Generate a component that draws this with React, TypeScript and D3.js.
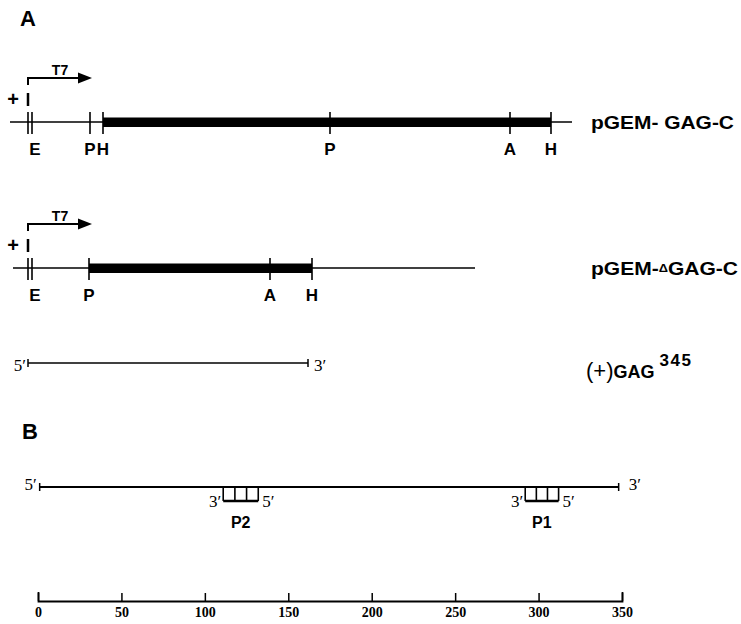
import React, { useEffect, useRef } from "react";
import * as d3 from "d3";

// plasmid maps (arbitrary map units, 0 = left end of pGEM-GAG-C drawing)
const gagLine = [0, 562];
const gagInsert = [93, 541];
const gagSites = [
  { label: "E", pos: 20 },
  { label: "P", pos: 80 },
  { label: "H", pos: 93 },
  { label: "P", pos: 320 },
  { label: "A", pos: 500 },
  { label: "H", pos: 541 },
];

const dgagLine = [3, 465];
const dgagInsert = [79, 302];
const dgagSites = [
  { label: "E", pos: 20 },
  { label: "P", pos: 79 },
  { label: "A", pos: 260 },
  { label: "H", pos: 302 },
];

const promoterStart = 18;
const promoterEnd = 82;
const transcript345 = [18, 298];

// part B, nucleotide coordinates
const rnaSpan = [1, 348];
const probes = [
  { name: "P2", from: 111, to: 132 },
  { name: "P1", from: 292, to: 312 },
];
const scaleTicks = [0, 50, 100, 150, 200, 250, 300, 350];

const SANS = "'Liberation Sans', Arial, sans-serif";
const SERIF = "'Liberation Serif', 'Times New Roman', serif";

const App = () => {
  const ref = useRef<SVGSVGElement>(null);

  useEffect(() => {
    const svg = d3.select(ref.current);
    svg.selectAll("*").remove();

    const mapX = d3.scaleLinear().domain([0, 565]).range([10, 575]);
    const ntX = d3.scaleLinear().domain([0, 350]).range([38, 622]);

    const rowY = { gag: 122, dgag: 268, t345: 363, rna: 487, axis: 601 };

    svg
      .append("text")
      .attr("x", 20)
      .attr("y", 26)
      .attr("font-family", SANS)
      .attr("font-weight", "bold")
      .attr("font-size", 22)
      .text("A");

    // one plasmid map
    const drawMap = (y, line, insert, sites, label) => {
      const g = svg.append("g");
      g.append("line")
        .attr("x1", mapX(line[0]))
        .attr("x2", mapX(line[1]))
        .attr("y1", y)
        .attr("y2", y)
        .attr("stroke", "#000")
        .attr("stroke-width", 1.5);
      g.append("rect")
        .attr("x", mapX(insert[0]))
        .attr("width", mapX(insert[1]) - mapX(insert[0]))
        .attr("y", y - 4.5)
        .attr("height", 9.5)
        .attr("fill", "#000");

      sites.forEach((s) => {
        const offs = s.label === "E" ? [-2, 2] : [0];
        offs.forEach((o) => {
          g.append("line")
            .attr("x1", mapX(s.pos) + o)
            .attr("x2", mapX(s.pos) + o)
            .attr("y1", y - 10)
            .attr("y2", y + 12)
            .attr("stroke", "#000")
            .attr("stroke-width", 1.6);
        });
        g.append("text")
          .attr("x", mapX(s.pos) + (s.label === "E" ? 5 : 0))
          .attr("y", y + 33)
          .attr("text-anchor", "middle")
          .attr("font-family", SANS)
          .attr("font-weight", "bold")
          .attr("font-size", 17)
          .text(s.label);
      });

      // T7 promoter arrow
      const px = mapX(promoterStart);
      const tip = mapX(promoterEnd);
      g.append("line")
        .attr("x1", px)
        .attr("x2", px)
        .attr("y1", y - 29)
        .attr("y2", y - 16)
        .attr("stroke", "#000")
        .attr("stroke-width", 2.5);
      g.append("path")
        .attr("d", `M${px},${y - 37}V${y - 44}H${tip - 13}`)
        .attr("fill", "none")
        .attr("stroke", "#000")
        .attr("stroke-width", 2);
      g.append("path")
        .attr("d", `M${tip - 14},${y - 49.5}L${tip},${y - 44}L${tip - 14},${y - 38.5}Z`)
        .attr("fill", "#000");
      g.append("text")
        .attr("x", px + 32)
        .attr("y", y - 47)
        .attr("text-anchor", "middle")
        .attr("font-family", SANS)
        .attr("font-weight", "bold")
        .attr("font-size", 14)
        .text("T7");
      g.append("text")
        .attr("x", 13)
        .attr("y", y - 16)
        .attr("text-anchor", "middle")
        .attr("font-family", SANS)
        .attr("font-weight", "bold")
        .attr("font-size", 20)
        .text("+");

      const t = g
        .append("text")
        .attr("x", 591)
        .attr("y", y + 7)
        .attr("font-family", SANS)
        .attr("font-weight", "bold")
        .attr("font-size", 18);
      label(t);
    };

    drawMap(rowY.gag, gagLine, gagInsert, gagSites, (t) =>
      t.attr("textLength", 143).attr("lengthAdjust", "spacingAndGlyphs").text("pGEM- GAG-C")
    );
    drawMap(rowY.dgag, dgagLine, dgagInsert, dgagSites, (t) => {
      t.attr("textLength", 147).attr("lengthAdjust", "spacingAndGlyphs");
      t.append("tspan").text("pGEM-");
      t.append("tspan").attr("font-size", 11).attr("dy", -3).text("\u0394");
      t.append("tspan").attr("dy", 3).text("GAG-C");
    });

    // (+)GAG345 transcript
    const endBar = (g, x, y) =>
      g
        .append("line")
        .attr("x1", x)
        .attr("x2", x)
        .attr("y1", y - 4)
        .attr("y2", y + 4)
        .attr("stroke", "#000")
        .attr("stroke-width", 1.5);
    const prime = (x, y, txt, anchor) =>
      svg
        .append("text")
        .attr("x", x)
        .attr("y", y)
        .attr("text-anchor", anchor)
        .attr("font-family", SERIF)
        .attr("font-size", 17)
        .text(txt);

    const tg = svg.append("g");
    tg.append("line")
      .attr("x1", mapX(transcript345[0]))
      .attr("x2", mapX(transcript345[1]))
      .attr("y1", rowY.t345)
      .attr("y2", rowY.t345)
      .attr("stroke", "#000")
      .attr("stroke-width", 1.6);
    endBar(tg, mapX(transcript345[0]), rowY.t345);
    endBar(tg, mapX(transcript345[1]), rowY.t345);
    prime(mapX(transcript345[0]) - 2, rowY.t345 + 8, "5\u2032", "end");
    prime(mapX(transcript345[1]) + 6, rowY.t345 + 8, "3\u2032", "start");

    const gt = svg
      .append("text")
      .attr("x", 586)
      .attr("y", rowY.t345 + 15)
      .attr("font-family", SANS)
      .attr("font-weight", "bold")
      .attr("font-size", 18);
    gt.append("tspan").attr("font-size", 22).attr("font-weight", "normal").text("(+)");
    gt.append("tspan").text("GAG");
    gt.append("tspan")
      .attr("dx", 5)
      .attr("dy", -12)
      .attr("font-size", 17)
      .attr("letter-spacing", 1.5)
      .text("345");

    // part B
    svg
      .append("text")
      .attr("x", 22)
      .attr("y", 439)
      .attr("font-family", SANS)
      .attr("font-weight", "bold")
      .attr("font-size", 22)
      .text("B");

    const bg = svg.append("g");
    bg.append("line")
      .attr("x1", ntX(rnaSpan[0]))
      .attr("x2", ntX(rnaSpan[1]))
      .attr("y1", rowY.rna)
      .attr("y2", rowY.rna)
      .attr("stroke", "#000")
      .attr("stroke-width", 1.8);
    endBar(bg, ntX(rnaSpan[0]), rowY.rna);
    endBar(bg, ntX(rnaSpan[1]), rowY.rna);
    prime(ntX(rnaSpan[0]) - 3, rowY.rna + 3, "5\u2032", "end");
    prime(ntX(rnaSpan[1]) + 10, rowY.rna + 3, "3\u2032", "start");

    probes.forEach((p) => {
      const x0 = ntX(p.from);
      const x1 = ntX(p.to);
      const yb = rowY.rna + 14;
      const pg = bg.append("g");
      d3.range(4).forEach((i) => {
        const x = x0 + ((x1 - x0) * i) / 3;
        pg.append("line")
          .attr("x1", x)
          .attr("x2", x)
          .attr("y1", rowY.rna)
          .attr("y2", yb)
          .attr("stroke", "#000")
          .attr("stroke-width", 1.6);
      });
      pg.append("line")
        .attr("x1", x0)
        .attr("x2", x1)
        .attr("y1", yb)
        .attr("y2", yb)
        .attr("stroke", "#000")
        .attr("stroke-width", 2.6);
      prime(x0 - 2, yb + 6, "3\u2032", "end");
      prime(x1 + 4, yb + 6, "5\u2032", "start");
      pg.append("text")
        .attr("x", (x0 + x1) / 2)
        .attr("y", rowY.rna + 41)
        .attr("text-anchor", "middle")
        .attr("font-family", SANS)
        .attr("font-weight", "bold")
        .attr("font-size", 16)
        .text(p.name);
    });

    // nucleotide scale
    const axis = svg
      .append("g")
      .attr("transform", `translate(0, ${rowY.axis})`)
      .call(
        d3
          .axisBottom(ntX)
          .tickValues(scaleTicks)
          .tickSizeInner(-8)
          .tickSizeOuter(-9)
          .tickPadding(6)
          .tickFormat(d3.format("d"))
      );
    axis.select(".domain").attr("stroke-width", 1.8);
    axis.selectAll(".tick line").attr("stroke-width", 1.5);
    axis
      .selectAll(".tick text")
      .attr("font-family", SERIF)
      .attr("font-weight", "bold")
      .attr("font-size", 14)
      .attr("fill", "#000");
  }, []);

  return (
    <svg
      ref={ref}
      width={741}
      height={624}
      style={{ position: "absolute", left: 0, top: 0, background: "#fff" }}
    ></svg>
  );
};

export default App;
